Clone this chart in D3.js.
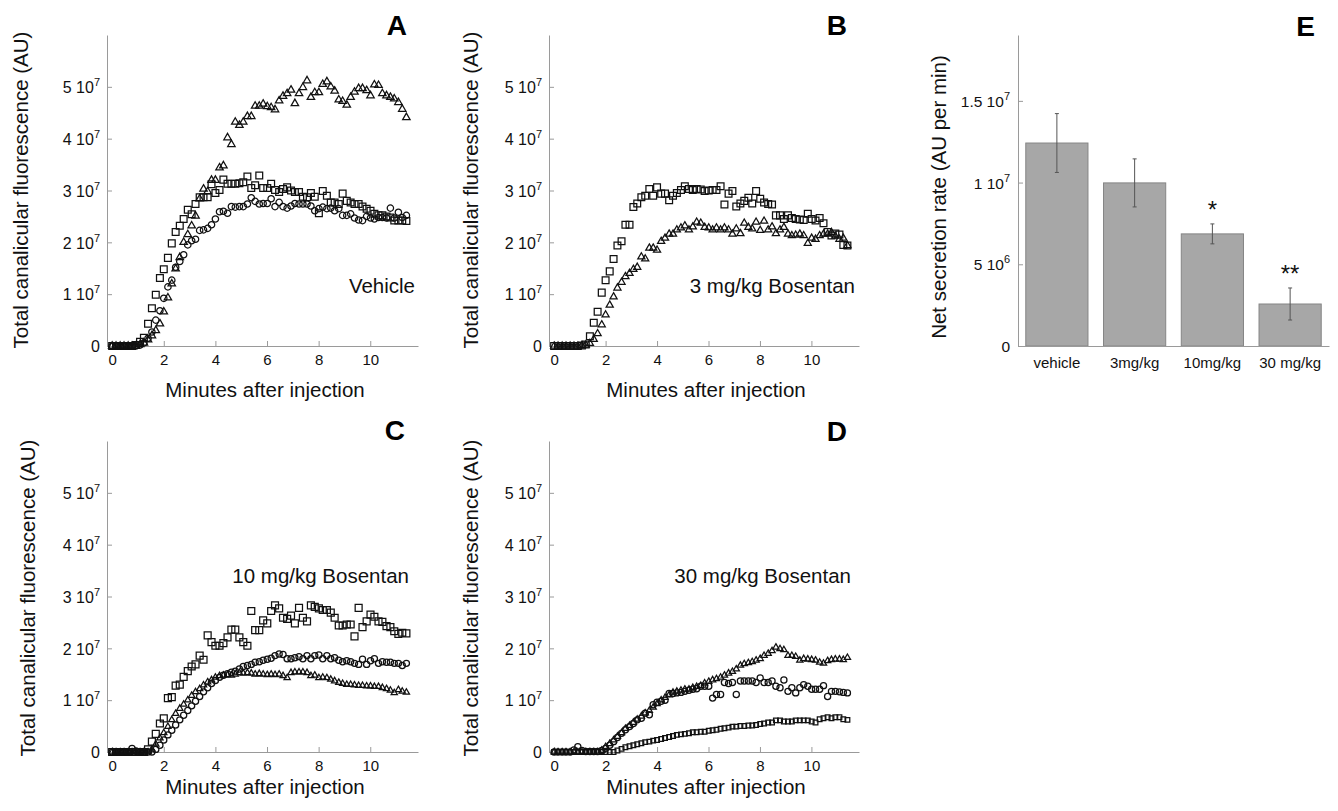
<!DOCTYPE html>
<html>
<head>
<meta charset="utf-8">
<script src="https://cdn.jsdelivr.net/npm/d3@7"></script>
<style>
  body { margin: 0; background: #fff; }
  svg { display: block; }
</style>
</head>
<body>
<div class="chart"></div>
<script>
// sampling times, minutes after injection
var times = [0,0.15,0.31,0.46,0.62,0.77,0.92,1.08,1.23,1.39,
  1.54,1.69,1.85,2.0,2.16,2.31,2.46,2.62,2.77,2.93,
  3.08,3.23,3.39,3.54,3.7,3.85,4.0,4.16,4.31,4.47,
  4.62,4.77,4.93,5.08,5.24,5.39,5.54,5.7,5.85,6.01,
  6.16,6.31,6.47,6.62,6.78,6.93,7.08,7.24,7.39,7.55,
  7.7,7.85,8.01,8.16,8.32,8.47,8.62,8.78,8.93,9.09,
  9.24,9.39,9.55,9.7,9.86,10.01,10.16,10.32,10.47,10.63,
  10.78,10.93,11.09,11.24,11.4];

// total canalicular fluorescence, in 10^7 AU
// A - vehicle
var vehTri = [0,0,0,0,0,0,0,0.03,0.06,0.12,
  0.2,0.3,0.43,0.66,0.93,1.2,1.49,1.71,2.0,2.15,
  2.32,2.51,2.84,3.03,2.98,3.2,3.2,3.44,3.48,4.02,
  3.89,4.32,4.26,4.32,4.43,4.43,4.63,4.63,4.67,4.62,
  4.6,4.56,4.73,4.82,4.87,4.94,4.68,4.87,4.99,5.12,
  4.8,4.89,4.89,5.05,5.1,5.0,4.92,4.75,4.72,4.65,
  4.8,4.9,4.97,4.97,4.93,4.83,5.04,5.03,4.87,4.83,
  4.8,4.77,4.7,4.57,4.41];
var vehSq = [0,0,0,0,0,0,0.02,0.08,0.16,0.43,
  0.73,0.99,1.31,1.48,1.7,1.98,2.2,2.32,2.45,2.63,
  2.54,2.74,2.87,2.87,2.87,3.12,2.95,3.01,3.21,3.13,
  3.13,3.13,3.14,3.16,3.27,3.05,3.1,3.29,3.05,3.05,
  3.13,3.01,2.97,3.03,3.06,3.0,2.97,2.97,2.88,2.87,
  2.95,2.88,2.56,2.99,2.9,2.77,2.77,2.74,2.94,2.8,
  2.77,2.74,2.74,2.69,2.65,2.61,2.55,2.52,2.52,2.5,
  2.48,2.42,2.42,2.42,2.41];
var vehCirc = [0,0,0,0,0,0,0,0.02,0.06,0.15,
  0.27,0.5,0.68,0.92,1.14,1.27,1.52,1.63,1.76,1.95,
  2.03,2.06,2.23,2.24,2.27,2.34,2.45,2.59,2.6,2.56,
  2.69,2.68,2.69,2.69,2.74,2.86,2.79,2.74,2.75,2.75,
  2.84,2.69,2.77,2.69,2.66,2.7,2.75,2.74,2.74,2.74,
  2.7,2.61,2.65,2.68,2.65,2.66,2.61,2.65,2.52,2.52,
  2.55,2.47,2.43,2.42,2.5,2.47,2.45,2.48,2.48,2.47,
  2.66,2.47,2.58,2.48,2.52];

// B - 3 mg/kg
var b3Sq = [0,0,0,0,0,0,0,0.01,0.03,0.19,
  0.45,0.66,1.03,1.27,1.44,1.68,1.94,2.02,2.34,2.34,
  2.68,2.75,2.87,2.9,3.03,2.9,3.06,2.94,2.94,2.81,
  2.9,2.95,3.01,3.08,3.03,3.01,3.03,3.02,2.99,3.0,
  3.01,3.01,3.08,2.73,2.94,2.99,2.69,2.75,2.8,2.86,
  2.75,2.99,2.84,2.77,2.74,2.73,2.52,2.52,2.45,2.52,
  2.47,2.45,2.44,2.43,2.55,2.45,2.42,2.47,2.37,2.2,
  2.13,2.17,2.15,1.95,1.94];
var b3Tri = [0,0,0,0,0,0,0,0.01,0.02,0.05,
  0.13,0.24,0.41,0.6,0.79,0.95,1.12,1.23,1.34,1.4,
  1.48,1.52,1.72,1.68,1.89,1.89,1.85,2.02,2.08,2.16,
  2.16,2.24,2.28,2.32,2.24,2.3,2.39,2.37,2.29,2.28,
  2.24,2.28,2.24,2.28,2.24,2.16,2.26,2.17,2.37,2.29,
  2.26,2.39,2.23,2.41,2.24,2.3,2.17,2.24,2.29,2.16,
  2.13,2.14,2.16,2.13,1.98,2.08,2.06,2.13,2.16,2.16,
  2.19,2.12,2.06,2.08,1.94];

// C - 10 mg/kg
var b10Sq = [0,0,0,0,0,0,0,0,0,0.05,
  0.2,0.35,0.55,0.65,1.04,1.06,1.28,1.3,1.45,1.56,
  1.65,1.69,1.86,1.78,2.25,2.12,2.05,2.05,2.1,2.21,
  2.36,2.36,2.21,2.12,2.05,2.72,2.35,2.35,2.54,2.48,
  2.72,2.83,2.77,2.59,2.57,2.63,2.48,2.78,2.59,2.52,
  2.83,2.8,2.77,2.74,2.74,2.69,2.59,2.44,2.44,2.46,
  2.46,2.23,2.78,2.41,2.52,2.65,2.61,2.52,2.51,2.43,
  2.41,2.33,2.28,2.3,2.29];
var b10Circ = [0,0,0,0,0,0.07,0.02,0,0,0,
  0,0.05,0.13,0.23,0.33,0.42,0.52,0.62,0.71,0.8,
  0.89,0.98,1.07,1.16,1.24,1.32,1.38,1.44,1.48,1.51,
  1.54,1.56,1.6,1.65,1.67,1.69,1.73,1.74,1.77,1.79,
  1.81,1.86,1.89,1.88,1.8,1.8,1.82,1.84,1.8,1.86,
  1.8,1.86,1.87,1.8,1.86,1.8,1.82,1.77,1.74,1.76,
  1.74,1.71,1.69,1.79,1.69,1.76,1.8,1.71,1.74,1.73,
  1.73,1.71,1.71,1.67,1.71];
var b10Tri = [0,0,0,0,0,0,0,0,0,0,
  0.05,0.15,0.27,0.37,0.49,0.62,0.74,0.84,0.92,1.0,
  1.09,1.16,1.22,1.29,1.35,1.39,1.44,1.47,1.48,1.49,
  1.48,1.5,1.53,1.52,1.53,1.52,1.5,1.51,1.5,1.49,
  1.5,1.49,1.5,1.47,1.43,1.53,1.54,1.54,1.54,1.53,
  1.47,1.48,1.43,1.44,1.43,1.4,1.37,1.34,1.32,1.3,
  1.3,1.29,1.28,1.28,1.27,1.27,1.26,1.26,1.24,1.22,
  1.19,1.14,1.2,1.17,1.15];

// D - 30 mg/kg
var b30Tri = [0,0,0,0,0,0,0,0,0,0,
  0,0,0.03,0.1,0.16,0.23,0.3,0.37,0.45,0.51,
  0.57,0.63,0.69,0.75,0.8,0.86,0.93,1.0,1.05,1.1,
  1.15,1.17,1.19,1.21,1.21,1.24,1.26,1.28,1.33,1.36,
  1.39,1.41,1.44,1.48,1.52,1.55,1.6,1.67,1.7,1.72,
  1.74,1.77,1.8,1.86,1.9,1.95,2.02,1.99,1.97,1.86,
  1.86,1.84,1.77,1.8,1.79,1.78,1.77,1.73,1.71,1.76,
  1.78,1.79,1.79,1.78,1.82];
var b30Circ = [0,0,0,0,0,0.04,0.1,0.03,0.01,0.01,
  0.01,0.01,0.03,0.07,0.13,0.2,0.28,0.36,0.43,0.49,
  0.55,0.62,0.65,0.75,0.72,0.91,0.96,0.98,1.0,1.13,
  1.13,1.14,1.15,1.17,1.19,1.21,1.22,1.27,1.27,1.27,
  1.04,1.11,1.11,1.34,1.32,1.34,1.11,1.37,1.37,1.37,
  1.37,1.34,1.43,1.34,1.34,1.37,1.27,1.24,1.39,1.17,
  1.24,1.14,1.24,1.3,1.27,1.21,1.21,1.21,1.28,1.07,
  1.17,1.17,1.16,1.15,1.14];
var b30Sq = [0,0,0,0,0,0,0,0,0,0,
  0,0,0,0,0,0,0.03,0.06,0.09,0.11,
  0.13,0.15,0.17,0.19,0.2,0.22,0.23,0.25,0.27,0.29,
  0.31,0.33,0.34,0.35,0.36,0.38,0.38,0.39,0.39,0.41,
  0.42,0.43,0.45,0.46,0.47,0.49,0.49,0.5,0.5,0.51,
  0.51,0.52,0.54,0.55,0.57,0.57,0.61,0.61,0.59,0.59,
  0.59,0.61,0.61,0.61,0.61,0.59,0.57,0.63,0.65,0.67,
  0.65,0.67,0.67,0.63,0.62];

var fluoTicks = [0, 1, 2, 3, 4, 5];      // 10^7 AU
var minuteTicks = [0, 2, 4, 6, 8, 10];

// E - net secretion rate, 10^7 AU per min
var doseGroups = ["vehicle", "3mg/kg", "10mg/kg", "30 mg/kg"];
var secretionRate = [1.242, 0.998, 0.686, 0.257];
var secretionSem = [0.18, 0.147, 0.061, 0.098];
var significance = ["", "", "*", "**"];
var rateTicks = [0, 0.5, 1, 1.5];

var font = "'Liberation Sans', Arial, Helvetica, sans-serif";
var axisColor = "#9a9a9a";
var ink = "#111";

var svg = d3.select(".chart").append("svg")
    .attr("width", 1338)
    .attr("height", 811)
    .style("font-family", font);

// "5 10^7" style labels
function sciText(text, v) {
    text.text(null);
    if (v === 0) { text.text("0"); return; }
    var e = Math.floor(Math.log10(v) + 1e-9);
    var m = +(v / Math.pow(10, e)).toFixed(2);
    text.append("tspan").text(m + " 10");
    text.append("tspan").attr("dy", -7).attr("font-size", 11).text(e);
}

function styleAxis(g, size) {
    g.attr("font-family", font).attr("font-size", size);
    g.select(".domain").attr("stroke", axisColor);
    g.selectAll(".tick line").attr("stroke", axisColor);
    g.selectAll(".tick text").attr("fill", ink);
}

var tri = d3.symbolTriangle, sq = d3.symbolSquare, circ = d3.symbolCircle;

var panels = [
    { letter: "A", lx: 407, ly: 35, note: "Vehicle", nx: 415, ny: 293,
      left: 107, right: 418, top: 35, base: 346, tx: 28, ty: 190, xt: 265, xty: 397,
      series: [[vehSq, sq, 46], [vehCirc, circ, 32], [vehTri, tri, 24]] },
    { letter: "B", lx: 847, ly: 35, note: "3 mg/kg Bosentan", nx: 855, ny: 293,
      left: 549, right: 859, top: 35, base: 346, tx: 478, ty: 190, xt: 706, xty: 397,
      series: [[b3Sq, sq, 46], [b3Tri, tri, 22]] },
    { letter: "C", lx: 405, ly: 440, note: "10 mg/kg Bosentan", nx: 409, ny: 583,
      left: 107, right: 418, top: 441, base: 752, tx: 35, ty: 598, xt: 265, xty: 794,
      series: [[b10Sq, sq, 48], [b10Circ, circ, 30], [b10Tri, tri, 17]] },
    { letter: "D", lx: 847, ly: 441, note: "30 mg/kg Bosentan", nx: 851, ny: 583,
      left: 549, right: 859, top: 441, base: 752, tx: 478, ty: 598, xt: 706, xty: 794,
      series: [[b30Sq, sq, 22], [b30Circ, circ, 30], [b30Tri, tri, 17]] }
];

panels.forEach(function (p) {
    var x = d3.scaleLinear().domain([-0.2, 11.85]).range([p.left, p.right]);
    var y = d3.scaleLinear().domain([0, 6]).range([p.base, p.top]);

    // y axis
    var gy = svg.append("g")
        .attr("transform", "translate(" + p.left + ",0)")
        .call(d3.axisLeft(y).tickValues(fluoTicks)
            .tickSizeInner(-5).tickSizeOuter(0).tickPadding(7));
    styleAxis(gy, 16);
    gy.selectAll(".tick text").attr("dy", "0.36em")
        .each(function (d) { sciText(d3.select(this), d * 1e7); });

    // x axis
    var gx = svg.append("g")
        .attr("transform", "translate(0," + p.base + ")")
        .call(d3.axisBottom(x).tickValues(minuteTicks)
            .tickSizeInner(-5).tickSizeOuter(0).tickPadding(8));
    styleAxis(gx, 15);

    // points
    p.series.forEach(function (s) {
        var symbol = d3.symbol().type(s[1]).size(s[2]);
        svg.append("g").selectAll("path")
            .data(s[0])
            .join("path")
            .attr("transform", function (v, i) {
                return "translate(" + x(times[i]) + "," + y(v) + ")";
            })
            .attr("d", symbol)
            .attr("fill", "none")
            .attr("stroke", "#111")
            .attr("stroke-width", 1.25);
    });

    // labels
    svg.append("text")
        .attr("transform", "translate(" + p.tx + "," + p.ty + ") rotate(-90)")
        .attr("text-anchor", "middle")
        .attr("font-size", 20.5)
        .attr("fill", ink)
        .text("Total canalicular fluorescence (AU)");

    svg.append("text")
        .attr("x", p.xt).attr("y", p.xty)
        .attr("text-anchor", "middle")
        .attr("font-size", 20.5)
        .attr("fill", ink)
        .text("Minutes after injection");

    svg.append("text")
        .attr("x", p.nx).attr("y", p.ny)
        .attr("text-anchor", "end")
        .attr("font-size", 20.5)
        .attr("fill", ink)
        .text(p.note);

    svg.append("text")
        .attr("x", p.lx).attr("y", p.ly)
        .attr("text-anchor", "end")
        .attr("font-size", 28)
        .attr("font-weight", "bold")
        .attr("fill", "#000")
        .text(p.letter);
});

// panel E - bar chart
var eBase = 346;
var ey = d3.scaleLinear().domain([0, 1.903]).range([eBase, 35]);
var ex = d3.scaleBand().domain(doseGroups).range([1018, 1329])
    .paddingInner(0.2).paddingOuter(0.1);

svg.append("g").selectAll("rect")
    .data(secretionRate)
    .join("rect")
    .attr("x", function (d, i) { return ex(doseGroups[i]); })
    .attr("y", function (d) { return ey(d); })
    .attr("width", ex.bandwidth())
    .attr("height", function (d) { return eBase - ey(d); })
    .attr("fill", "#a7a7a7")
    .attr("stroke", "#858585")
    .attr("stroke-width", 1);

var err = svg.append("g").attr("stroke", "#555").attr("stroke-width", 1);
secretionRate.forEach(function (d, i) {
    var cx = ex(doseGroups[i]) + ex.bandwidth() / 2;
    var hi = ey(d + secretionSem[i]), lo = ey(d - secretionSem[i]);
    err.append("line").attr("x1", cx).attr("x2", cx).attr("y1", hi).attr("y2", lo);
    err.append("line").attr("x1", cx - 2).attr("x2", cx + 2).attr("y1", hi).attr("y2", hi);
    err.append("line").attr("x1", cx - 2).attr("x2", cx + 2).attr("y1", lo).attr("y2", lo);
    if (significance[i]) {
        svg.append("text")
            .attr("x", cx).attr("y", hi - 6)
            .attr("text-anchor", "middle")
            .attr("font-size", 24)
            .attr("fill", ink)
            .text(significance[i]);
    }
});

var eyAxis = svg.append("g")
    .attr("transform", "translate(1018,0)")
    .call(d3.axisLeft(ey).tickValues(rateTicks)
        .tickSizeInner(-5).tickSizeOuter(0).tickPadding(8));
styleAxis(eyAxis, 15.5);
eyAxis.selectAll(".tick text").attr("dy", "0.36em")
    .each(function (d) { sciText(d3.select(this), d * 1e7); });

var exAxis = svg.append("g")
    .attr("transform", "translate(0," + eBase + ")")
    .call(d3.axisBottom(ex).tickSizeInner(0).tickSizeOuter(0).tickPadding(11));
styleAxis(exAxis, 15);

svg.append("text")
    .attr("transform", "translate(946,197) rotate(-90)")
    .attr("text-anchor", "middle")
    .attr("font-size", 20.5)
    .attr("fill", ink)
    .text("Net secretion rate (AU per min)");

svg.append("text")
    .attr("x", 1315).attr("y", 36)
    .attr("text-anchor", "end")
    .attr("font-size", 28)
    .attr("font-weight", "bold")
    .attr("fill", "#000")
    .text("E");
</script>
</body>
</html>
